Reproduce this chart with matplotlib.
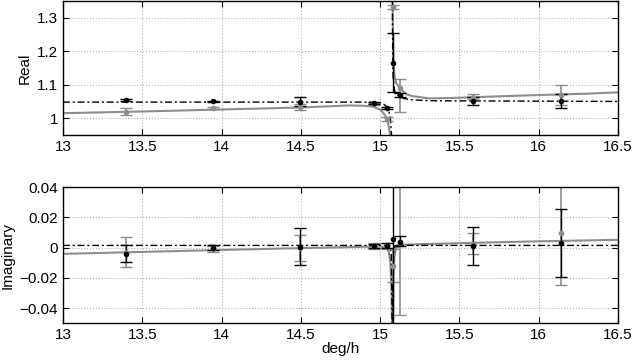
import numpy as np
import matplotlib
matplotlib.use('Agg')
import matplotlib.pyplot as plt

plt.rcParams['font.family'] = ['Liberation Sans', 'DejaVu Sans']
plt.rcParams['font.size'] = 11

# tidal constituent frequencies (deg/h)
freq = [13.3987, 13.9430, 14.4967, 14.9589, 15.0411, 15.0821, 15.1232, 15.5854, 16.1391]

# real part, black series
re_blk = [1.054, 1.050, 1.049, 1.045, 1.031, 1.165, 1.069, 1.051, 1.051]
re_blk_err = [0.004, 0.002, 0.013, 0.003, 0.003, 0.088, 0.005, 0.012, 0.022]
# real part, gray series
re_gry = [1.020, 1.030, 1.034, 1.042, 0.998, 1.331, 1.089, 1.064, 1.069]
re_gry_lo = [0.010, 0.002, 0.009, 0.003, 0.005, 0.007, 0.069, 0.008, 0.030]
re_gry_hi = [0.010, 0.002, 0.009, 0.003, 0.005, 0.007, 0.028, 0.008, 0.030]

# imaginary part, black series
im_blk = [-0.004, 0.000, 0.0007, 0.0012, 0.0014, 0.006, 0.004, 0.0012, 0.003]
im_blk_lo = [0.0055, 0.0015, 0.012, 0.0015, 0.0015, 0.1, 0.003, 0.0124, 0.0226]
im_blk_hi = [0.0055, 0.0015, 0.012, 0.0015, 0.0015, 0.1, 0.004, 0.0124, 0.0226]
# imaginary part, gray series
im_gry = [-0.003, -0.001, 0.000, 0.001, 0.001, -0.012, 0.0037, 0.0025, 0.010]
im_gry_err = [0.010, 0.002, 0.0085, 0.002, 0.002, 0.011, 0.048, 0.007, 0.035]

# model curves (nan breaks the line at the pole)
re_gry_x = [13.0, 13.5, 14.0, 14.5, 14.8, 14.9, 14.95, 15.0, 15.03, 15.05, 15.06, 15.066, 15.07,
            np.nan,
            15.078, 15.081, 15.084, 15.09, 15.1, 15.125, 15.167, 15.2, 15.31, 15.5, 15.8, 16.0, 16.3, 16.5]
re_gry_y = [1.015, 1.020, 1.026, 1.032, 1.038, 1.037, 1.035, 1.026, 1.010, 0.986, 0.960, 0.930, 0.880,
            np.nan,
            1.400, 1.250, 1.165, 1.130, 1.106, 1.089, 1.071, 1.066, 1.059, 1.061, 1.066, 1.069, 1.073, 1.077]

re_blk_x = [13.0, 14.0, 14.9, 14.98, 15.02, 15.05, 15.065, 15.072, 15.075,
            np.nan,
            15.077, 15.079, 15.082, 15.094, 15.146, 15.2, 15.31, 16.5]
re_blk_y = [1.048, 1.048, 1.048, 1.047, 1.043, 1.030, 1.000, 0.950, 0.880,
            np.nan,
            1.400, 1.200, 1.120, 1.074, 1.059, 1.055, 1.052, 1.050]

im_gry_x = [13.0, 14.0, 14.5, 15.0, 15.04, 15.055, 15.065, 15.072, 15.076, 15.080, 15.084,
            15.09, 15.1, 15.15, 15.5, 16.0, 16.5]
im_gry_y = [-0.0041, -0.0015, -0.0003, 0.0008, 0.000, -0.003, -0.010, -0.030, -0.060, -0.060, -0.020,
            -0.006, 0.000, 0.002, 0.003, 0.0042, 0.0052]

im_blk_x = [13.0, 15.06, 15.07, 15.074, 15.076, 15.079, 15.081, 15.085, 15.09, 15.1, 16.5]
im_blk_y = [0.0015, 0.0015, -0.004, -0.030, -0.060, -0.060, -0.020, -0.003, 0.001, 0.0015, 0.0015]

gray = (0.55, 0.55, 0.55)
dashdot = (0, (5, 2, 1.5, 2))

fig = plt.figure(figsize=(6.35, 3.6), dpi=100)
ax1 = fig.add_axes([0.0992, 0.625, 0.874, 0.373])
ax2 = fig.add_axes([0.0992, 0.102, 0.874, 0.378])

# top panel
ax1.plot(re_gry_x, re_gry_y, color=gray, lw=1.5)
ax1.plot(re_blk_x, re_blk_y, color='k', lw=1.0, linestyle=dashdot)
ax1.errorbar(freq, re_gry, yerr=[re_gry_lo, re_gry_hi], fmt='o', ms=3, color=gray,
             ecolor=gray, elinewidth=1.2, capsize=4)
ax1.errorbar(freq, re_blk, yerr=re_blk_err, fmt='.', ms=6, color='k',
             ecolor='k', elinewidth=1.0, capsize=4)
ax1.set_xlim(13, 16.5)
ax1.set_ylim(0.95, 1.35)
ax1.set_yticks([1, 1.1, 1.2, 1.3])
ax1.set_yticklabels(['1', '1.1', '1.2', '1.3'])
ax1.set_ylabel('Real')
ax1.yaxis.set_label_coords(-0.056, 0.5)

# bottom panel
ax2.plot(im_gry_x, im_gry_y, color=gray, lw=1.5)
ax2.plot(im_blk_x, im_blk_y, color='k', lw=1.0, linestyle=dashdot)
ax2.errorbar(freq, im_gry, yerr=im_gry_err, fmt='o', ms=3, color=gray,
             ecolor=gray, elinewidth=1.2, capsize=4)
ax2.errorbar(freq, im_blk, yerr=[im_blk_lo, im_blk_hi], fmt='.', ms=6, color='k',
             ecolor='k', elinewidth=1.0, capsize=4)
ax2.set_xlim(13, 16.5)
ax2.set_ylim(-0.05, 0.04)
ax2.set_yticks([-0.04, -0.02, 0, 0.02, 0.04])
ax2.set_yticklabels(['\u22120.04', '\u22120.02', '0', '0.02', '0.04'])
ax2.set_ylabel('Imaginary')
ax2.yaxis.set_label_coords(-0.0865, 0.5)
ax2.set_xlabel('deg/h', labelpad=0)

for ax in (ax1, ax2):
    ax.set_xticks([13, 13.5, 14, 14.5, 15, 15.5, 16, 16.5])
    ax.set_xticklabels(['13', '13.5', '14', '14.5', '15', '15.5', '16', '16.5'])
    ax.grid(True, linestyle=':', color='0.7', lw=0.8)
    ax.tick_params(direction='in', top=True, right=True, length=4, labelsize=11)
    for s in ax.spines.values():
        s.set_linewidth(1.0)

fig.savefig('out.png', dpi=100)
